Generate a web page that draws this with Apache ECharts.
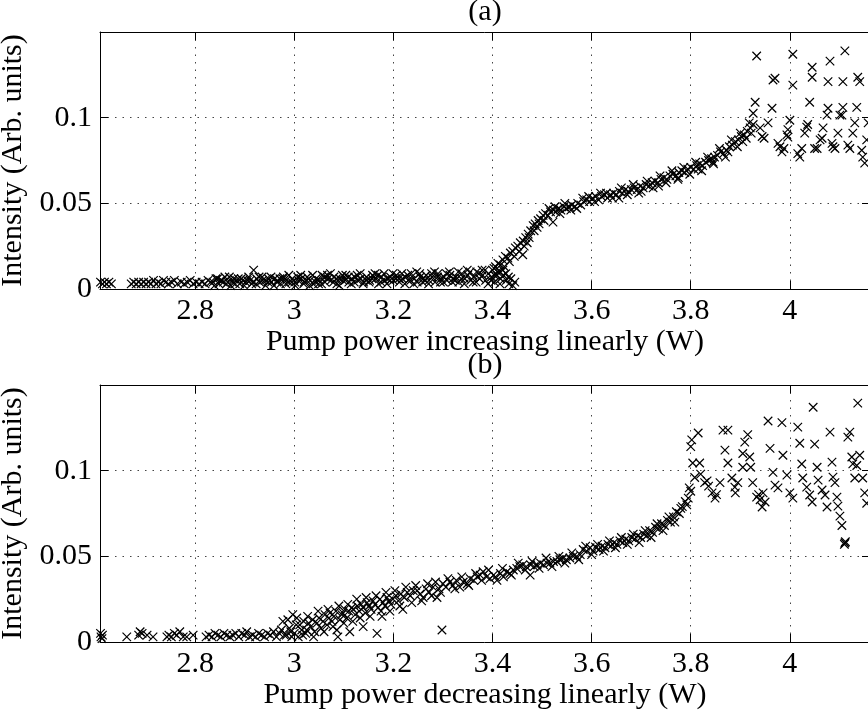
<!DOCTYPE html>
<html>
<head>
<meta charset="utf-8">
<script src="https://cdn.jsdelivr.net/npm/echarts@6/dist/echarts.min.js"></script>
<style>html,body{margin:0;padding:0;background:#fff}#c{width:868px;height:714px}</style>
</head>
<body>
<div id="c"></div>
<script>
// ---- axis ticks ----
const xTicks = [2.8, 3, 3.2, 3.4, 3.6, 3.8, 4];
const yTicks = [0, 0.05, 0.1];
const X_MIN = 2.608, X_MAX = 4.1617;
const Y_MIN = 0, Y_MAX = 0.15;
const titleA = '(a)', titleB = '(b)';
const xNameA = 'Pump power increasing linearly (W)';
const xNameB = 'Pump power decreasing linearly (W)';
const yName = 'Intensity (Arb. units)';

// ---- panel (a): increasing pump power ----
const incStart = [[2.609,.004],[2.613,.003],[2.617,.004],[2.621,.003],[2.626,.004],[2.631,.003],
[2.671,.003],[2.676,.004],[2.681,.003],[2.686,.004],[2.691,.003],[2.696,.004],[2.701,.003],[2.706,.004],[2.711,.003],[2.716,.005],
[2.721,.003],[2.726,.004],[2.731,.003],[2.736,.005],[2.741,.004],[2.746,.003],[2.752,.004],[2.758,.005],[2.764,.003],[2.772,.004],
[2.778,.003],[2.784,.004],[2.790,.005],[2.796,.003],[2.802,.004],[2.808,.003],[2.814,.004],[2.820,.003],[2.826,.005],[2.831,.004]];
const incBand = [[2.836,.004],[2.842,.006],[2.848,.003],[2.854,.005],[2.860,.007],[2.866,.004],[2.872,.002],[2.878,.006],[2.884,.005],[2.890,.003],
[2.896,.005],[2.902,.004],[2.908,.007],[2.914,.003],[2.918,.011],[2.924,.006],[2.930,.004],[2.936,.005],[2.942,.002],[2.948,.006],
[2.954,.004],[2.960,.006],[2.966,.005],[2.972,.003],[2.978,.007],[2.984,.005],[2.990,.004],[2.996,.006],[3.002,.002],[3.008,.005],
[3.014,.006],[3.020,.004],[3.026,.007],[3.032,.005],[3.038,.003],[3.044,.006],[3.050,.005],[3.056,.008],[3.062,.004],[3.068,.006],
[3.074,.005],[3.080,.007],[3.086,.003],[3.092,.006],[3.098,.005],[3.104,.008],[3.110,.004],[3.116,.006],[3.122,.007],[3.128,.005],
[3.134,.006],[3.140,.004],[3.146,.007],[3.152,.005],[3.158,.008],[3.164,.006],[3.170,.003],[3.176,.007],[3.182,.005],[3.188,.006],
[3.194,.007],[3.200,.005],[3.206,.008],[3.212,.004],[3.218,.006],[3.224,.007],[3.230,.005],[3.236,.009],[3.242,.006],[3.248,.004],
[3.254,.007],[3.260,.006],[3.266,.008],[3.272,.005],[3.278,.007],[3.284,.004],[3.290,.009],[3.296,.006],[3.302,.007],[3.308,.005],
[3.314,.008],[3.320,.006],[3.326,.007],[3.332,.004],[3.338,.009],[3.344,.006],[3.350,.008],[3.356,.005],[3.362,.007],[3.368,.010],
[3.374,.006],[3.380,.008],[3.386,.005],[3.392,.009],[3.398,.007],[3.404,.004],[3.410,.010],[3.416,.006],[3.422,.008],[3.428,.005]];
const incBand2 = [[2.839,.002],[2.851,.005],[2.863,.003],[2.875,.004],[2.887,.006],[2.899,.002],[2.911,.005],[2.923,.003],[2.935,.007],[2.947,.004],
[2.959,.002],[2.971,.006],[2.983,.003],[2.995,.004],[3.007,.007],[3.019,.003],[3.031,.002],[3.043,.004],[3.055,.003],[3.067,.008],
[3.079,.004],[3.091,.002],[3.103,.005],[3.115,.003],[3.127,.008],[3.139,.003],[3.151,.004],[3.163,.009],[3.175,.004],[3.187,.003],
[3.199,.009],[3.211,.006],[3.223,.003],[3.235,.005],[3.247,.010],[3.259,.004],[3.271,.003],[3.283,.010],[3.295,.004],[3.307,.009],
[3.319,.004],[3.331,.010],[3.343,.003],[3.355,.010],[3.367,.004],[3.379,.011],[3.391,.003],[3.403,.012],[3.415,.003],[3.427,.009],
[3.433,.003],[3.437,.006],[3.441,.002],[3.445,.004]];
const incBand3 = [[2.845,.006],[2.857,.004],[2.869,.007],[2.881,.003],[2.893,.006],[2.905,.005],[2.917,.004],[2.929,.007],[2.941,.005],[2.953,.007],
[2.965,.004],[2.977,.006],[2.989,.008],[3.001,.004],[3.013,.008],[3.025,.005],[3.037,.008],[3.049,.003],[3.061,.007],[3.073,.009],
[3.085,.006],[3.097,.008],[3.109,.007],[3.121,.004],[3.133,.009],[3.145,.005],[3.157,.006],[3.169,.008],[3.181,.009],[3.193,.005],
[3.205,.006],[3.217,.009],[3.229,.008],[3.241,.003],[3.253,.009],[3.265,.005],[3.277,.009],[3.289,.007],[3.301,.004],[3.313,.010],
[3.325,.005],[3.337,.006],[3.349,.011],[3.361,.004],[3.373,.009],[3.385,.011],[3.397,.005],[3.409,.008],[3.421,.011],[3.432,.007]];
const incRamp = [[3.400,.011],[3.406,.013],[3.411,.015],[3.416,.014],[3.421,.017],[3.426,.019],[3.431,.018],[3.436,.021],[3.441,.022],[3.446,.024],
[3.451,.025],[3.456,.027],[3.461,.020],[3.462,.028],[3.467,.030],[3.470,.027],[3.472,.032],[3.477,.034],[3.482,.037],[3.486,.038],
[3.490,.036],[3.492,.040],[3.497,.041],[3.502,.043],[3.507,.044],[3.512,.043],[3.517,.045],[3.522,.039],[3.523,.046],[3.528,.045],
[3.533,.047],[3.538,.046],[3.544,.048],[3.549,.047],[3.555,.048],[3.560,.049],[3.566,.048],[3.572,.050],[3.578,.049],[3.584,.051],
[3.590,.052],[3.596,.051],[3.602,.053],[3.608,.054],[3.614,.052],[3.620,.054],[3.626,.055],[3.632,.053],[3.638,.055],[3.644,.056],
[3.650,.055],[3.656,.057],[3.662,.056],[3.668,.058],[3.674,.057],[3.680,.058],[3.686,.059],[3.692,.058],[3.698,.060],[3.704,.059],
[3.710,.061],[3.716,.060],[3.722,.062],[3.728,.063],[3.734,.062],[3.740,.064],[3.746,.065],[3.752,.064],[3.758,.066],[3.764,.067],
[3.770,.066],[3.776,.068],[3.782,.069],[3.788,.068],[3.794,.070],[3.800,.071],[3.806,.070],[3.812,.072],[3.818,.073],[3.824,.072],
[3.830,.074],[3.836,.075],[3.842,.076],[3.848,.077],[3.854,.078],[3.860,.080],[3.866,.079],[3.872,.081],[3.878,.083],[3.884,.084],
[3.890,.086],[3.896,.087],[3.902,.089],[3.908,.090],[3.914,.092],[3.920,.094],[3.926,.096],
[3.655,.053],[3.695,.056],[3.735,.060],[3.775,.065],[3.815,.070],[3.845,.074],[3.875,.080],[3.905,.086]];
const incRamp2 = [[3.404,.008],[3.414,.010],[3.424,.013],[3.434,.016],[3.444,.019],[3.454,.022],[3.464,.025],[3.474,.030],[3.484,.034],[3.494,.038],
[3.504,.040],[3.514,.047],[3.526,.048],[3.536,.044],[3.546,.050],[3.558,.046],[3.570,.047],[3.582,.053],[3.594,.054],[3.606,.051],
[3.618,.056],[3.630,.056],[3.642,.053],[3.660,.059],[3.672,.055],[3.684,.061],[3.700,.057],[3.712,.063],[3.724,.059],[3.738,.066],
[3.750,.062],[3.762,.069],[3.774,.064],[3.786,.071],[3.798,.067],[3.810,.074],[3.822,.069],[3.834,.077],[3.846,.073],[3.858,.082],
[3.870,.077],[3.882,.087],[3.894,.083],[3.900,.091],[3.912,.088],[3.918,.097],[3.922,.091]];
const incScatter = [[3.926,.1026],[3.930,.109],[3.933,.136],[3.940,.094],[3.944,.089],[3.948,.088],[3.956,.097],[3.964,.1055],[3.966,.122],[3.970,.123],
[3.976,.085],[3.980,.083],[3.984,.080],[3.988,.082],[3.994,.090],[3.996,.0886],[3.996,.093],[4.000,.0985],[4.006,.119],[4.006,.137],
[4.016,.079],[4.020,.077],[4.024,.082],[4.030,.091],[4.034,.0945],[4.036,.096],[4.040,.109],[4.045,.1236],[4.045,.1294],[4.050,.082],
[4.055,.082],[4.061,.087],[4.065,.088],[4.067,.094],[4.075,.1015],[4.077,.1055],[4.077,.121],[4.081,.133],[4.085,.085],[4.087,.083],
[4.091,.082],[4.097,.091],[4.101,.1015],[4.105,.1015],[4.107,.106],[4.107,.121],[4.111,.139],[4.117,.084],[4.121,.082],[4.127,.091],
[4.131,.097],[4.135,.106],[4.137,.1236],[4.141,.121],[4.145,.081],[4.147,.077],[4.151,.0735],[4.155,.087],[4.158,.097]];

// ---- panel (b): decreasing pump power ----
const decStart = [[2.609,.005],[2.610,.003],[2.612,.002],[2.613,.004],
[2.662,.003],[2.686,.004],[2.689,.006],[2.693,.005],[2.703,.004],[2.715,.003],[2.743,.003],[2.747,.004],[2.752,.003],[2.758,.005],
[2.763,.004],[2.769,.006],[2.776,.003],[2.783,.003],[2.796,.004],
[2.822,.003],[2.828,.004],[2.834,.003],[2.840,.005],[2.846,.004],[2.852,.003],[2.858,.005],[2.864,.004],[2.870,.003],[2.876,.004],
[2.882,.005],[2.888,.003],[2.894,.005],[2.900,.004],[2.904,.006],[2.910,.003],[2.916,.004],[2.922,.003],[2.928,.005],[2.934,.004],
[2.940,.003],[2.946,.005],[2.952,.004],[2.958,.006],[2.964,.003],[2.970,.005],[2.974,.007],[2.977,.012],[2.980,.004]];
const decRamp = [[2.984,.004],[2.987,.013],[2.990,.008],[2.993,.006],[2.997,.016],[3.000,.005],[3.004,.010],[3.008,.003],[3.011,.010],[3.015,.007],
[3.019,.012],[3.023,.005],[3.025,.007],[3.029,.011],[3.033,.009],[3.037,.013],[3.041,.006],[3.046,.011],[3.050,.014],[3.054,.008],
[3.058,.012],[3.062,.016],[3.066,.010],[3.070,.014],[3.072,.017],[3.076,.012],[3.080,.015],[3.084,.018],[3.086,.007],[3.088,.003],
[3.092,.013],[3.096,.016],[3.098,.017],[3.102,.019],[3.106,.014],[3.110,.018],[3.112,.006],[3.116,.020],[3.119,.019],[3.123,.016],
[3.127,.021],[3.131,.018],[3.135,.022],[3.139,.020],[3.139,.009],[3.143,.017],[3.147,.023],[3.151,.021],[3.155,.019],[3.159,.024],
[3.163,.022],[3.167,.005],[3.169,.020],[3.173,.025],[3.177,.015],[3.179,.023],[3.183,.021],[3.187,.026],[3.191,.024],[3.195,.022],
[3.199,.025],[3.205,.027],[3.210,.024],[3.215,.028],[3.219,.019],[3.222,.026],[3.228,.029],[3.234,.027],[3.240,.030],[3.248,.030],
[3.254,.028],[3.260,.026],[3.266,.031],[3.272,.029],[3.280,.032],[3.288,.026],[3.292,.031],[3.298,.007],[3.300,.034],[3.306,.032],
[3.314,.035],[3.320,.033],[3.327,.036],[3.334,.032],[3.341,.035],[3.349,.034],[3.355,.037],[3.362,.036],[3.369,.038],[3.375,.039],
[3.381,.041],[3.388,.038],[3.395,.037],[3.402,.039],[3.409,.036],[3.416,.040],[3.422,.038],[3.429,.041],[3.435,.040],[3.442,.042],
[3.449,.043],[3.455,.044],[3.461,.045],[3.468,.044],[3.476,.039],[3.477,.045],[3.484,.044],[3.490,.045],[3.497,.046],[3.503,.045],
[3.510,.046],[3.516,.046],[3.523,.047],[3.530,.047],[3.536,.048],[3.542,.049],[3.549,.048],[3.556,.049],[3.563,.050],[3.570,.050],
[3.577,.051],[3.583,.054],[3.590,.053],[3.597,.055],[3.603,.053],[3.609,.055],[3.615,.054],[3.621,.056],[3.627,.055],[3.633,.057],
[3.639,.056],[3.645,.058],[3.651,.057],[3.657,.059],[3.663,.058],[3.669,.060],[3.675,.059],[3.681,.061],[3.687,.060],[3.693,.062],
[3.699,.061],[3.705,.063],[3.711,.062],[3.717,.065],[3.723,.064],[3.729,.067],[3.735,.066],[3.741,.069],[3.747,.068],[3.753,.071],
[3.759,.070],[3.765,.073],[3.771,.076],[3.777,.075],[3.783,.079],[3.789,.082],[3.795,.084],[3.800,.088]];
const decRamp2 = [[2.995,.003],[3.005,.014],[3.017,.004],[3.027,.015],[3.039,.003],[3.048,.018],[3.060,.006],[3.068,.019],[3.078,.009],[3.090,.021],
[3.100,.011],[3.108,.022],[3.118,.012],[3.126,.025],[3.133,.014],[3.145,.026],[3.153,.015],[3.165,.027],[3.175,.018],[3.185,.029],
[3.193,.018],[3.203,.030],[3.213,.021],[3.225,.032],[3.237,.023],[3.245,.033],[3.257,.024],[3.269,.034],[3.277,.027],[3.285,.035],
[3.295,.029],[3.310,.037],[3.324,.031],[3.338,.038],[3.352,.033],[3.366,.040],[3.378,.036],[3.392,.042],[3.406,.038],[3.420,.043],
[3.438,.039],[3.452,.046],[3.466,.042],[3.480,.047],[3.494,.043],[3.508,.049],[3.520,.044],[3.534,.050],[3.546,.046],[3.560,.052],
[3.574,.048],[3.588,.056],[3.600,.051],[3.612,.057],[3.624,.053],[3.636,.059],[3.648,.055],[3.660,.061],[3.672,.057],[3.684,.063],
[3.696,.058],[3.708,.065],[3.720,.061],[3.732,.069],[3.744,.065],[3.756,.073],[3.768,.070],[3.780,.078],[3.792,.080],[3.797,.090]];
const decScatter = [[3.800,.114],[3.802,.118],[3.804,.1045],[3.808,.096],[3.815,.122],[3.818,.1045],[3.820,.098],[3.828,.093],[3.833,.094],[3.836,.091],
[3.843,.087],[3.849,.084],[3.852,.086],[3.859,.093],[3.865,.1237],[3.869,.112],[3.875,.1237],[3.875,.1045],[3.883,.0957],[3.889,.0904],
[3.890,.087],[3.895,.093],[3.905,.110],[3.905,.102],[3.909,.1167],[3.915,.121],[3.919,.108],[3.921,.102],[3.925,.093],[3.933,.0846],
[3.937,.086],[3.940,.083],[3.956,.129],[3.984,.128],[4.016,.1254],[4.047,.137],[4.081,.1225],[4.121,.1225],[4.117,.1196],[4.137,.1394],
[3.960,.113],[4.020,.116],[4.050,.1155],[3.986,.109],[4.125,.108],[4.141,.109],[4.024,.1039],[4.055,.102],[4.085,.105],[4.127,.104],
[4.135,.103],[3.966,.099],[3.994,.0974],[4.026,.0957],[4.057,.0945],[4.087,.0962],[4.091,.093],[4.131,.0957],[4.147,.0957],[3.970,.0916],
[3.976,.090],[3.946,.087],[3.950,.0817],[3.944,.0788],[4.000,.087],[4.006,.084],[4.034,.0904],[4.040,.0858],[4.045,.0817],[4.065,.0887],
[4.071,.0858],[4.075,.0788],[4.095,.0846],[4.097,.0793],[4.101,.0735],[4.105,.068],[4.111,.0578],[4.112,.0585],[4.110,.057],[4.151,.087],
[4.155,.081]];

const incData = incStart.concat(incBand, incBand2, incBand3, incRamp, incRamp2, incScatter);
const decData = decStart.concat(decRamp, decRamp2, decScatter);

// ---- styling ----
const FONT = 'Liberation Serif';
const FS = 30;
const CROSS = 'path://M0,0L10,10M0,10L10,0';
const grids = [
  {left:100, top:32, width:770, height:257, containLabel:false, outerBoundsMode:'none'},
  {left:100, top:385, width:770, height:257, containLabel:false, outerBoundsMode:'none'}
];
const axisLineStyle = {color:'#000', width:1};
const gridLine = {show:true, lineStyle:{type:[1.5,6], color:'#444', width:1}};
const txt = {fontFamily:FONT, fontSize:FS, color:'#000'};

function xBottom(gi, name) {
  return {type:'value', gridIndex:gi, position:'bottom', min:X_MIN, max:X_MAX,
    name:name, nameLocation:'middle', nameGap:35, nameTextStyle:txt,
    axisLine:{show:true, onZero:false, lineStyle:axisLineStyle},
    axisTick:{show:true, inside:true, length:8, customValues:xTicks, lineStyle:axisLineStyle},
    axisLabel:{show:true, customValues:xTicks, margin:7, fontFamily:FONT, fontSize:FS, color:'#000',
      formatter:v => String(+(+v).toFixed(3))},
    splitLine:gridLine};
}
function xTop(gi) {
  return {type:'value', gridIndex:gi, position:'top', min:X_MIN, max:X_MAX,
    axisLine:{show:true, onZero:false, lineStyle:axisLineStyle},
    axisTick:{show:true, inside:true, length:8, customValues:xTicks, lineStyle:axisLineStyle},
    axisLabel:{show:false}, splitLine:{show:false}};
}
function yLeft(gi) {
  return {type:'value', gridIndex:gi, position:'left', min:Y_MIN, max:Y_MAX, interval:0.05,
    name:yName, nameLocation:'middle', nameGap:61, nameRotate:90, nameTextStyle:txt,
    axisLine:{show:true, onZero:false, lineStyle:axisLineStyle},
    axisTick:{show:true, inside:true, length:8, lineStyle:axisLineStyle},
    axisLabel:{show:true, customValues:yTicks, margin:8, fontFamily:FONT, fontSize:FS, color:'#000',
      formatter:v => String(+(+v).toFixed(3))},
    splitLine:gridLine};
}
function yRight(gi) {
  return {type:'value', gridIndex:gi, position:'right', min:Y_MIN, max:Y_MAX, interval:0.05,
    axisLine:{show:true, onZero:false, lineStyle:axisLineStyle},
    axisTick:{show:true, inside:true, length:8, lineStyle:axisLineStyle},
    axisLabel:{show:false}, splitLine:{show:false}};
}
function scatter(xi, yi, data) {
  return {type:'scatter', xAxisIndex:xi, yAxisIndex:yi, data:data, symbol:CROSS, symbolSize:8.5,
    itemStyle:{color:'transparent', borderColor:'#000', borderWidth:1.2, opacity:1},
    emphasis:{disabled:true}, silent:true, clip:true};
}

const chart = echarts.init(document.getElementById('c'), null, {renderer:'canvas'});
chart.setOption({
  animation:false,
  backgroundColor:'#fff',
  grid:grids,
  xAxis:[xBottom(0, xNameA), xTop(0), xBottom(1, xNameB), xTop(1)],
  yAxis:[yLeft(0), yRight(0), yLeft(1), yRight(1)],
  graphic:[
    {type:'text', x:485, y:-3, style:{text:titleA, font:FS + 'px ' + FONT, fill:'#000', align:'center', verticalAlign:'top'}},
    {type:'text', x:485, y:350, style:{text:titleB, font:FS + 'px ' + FONT, fill:'#000', align:'center', verticalAlign:'top'}}
  ],
  series:[scatter(0, 0, incData), scatter(2, 2, decData)]
});
</script>
</body>
</html>
